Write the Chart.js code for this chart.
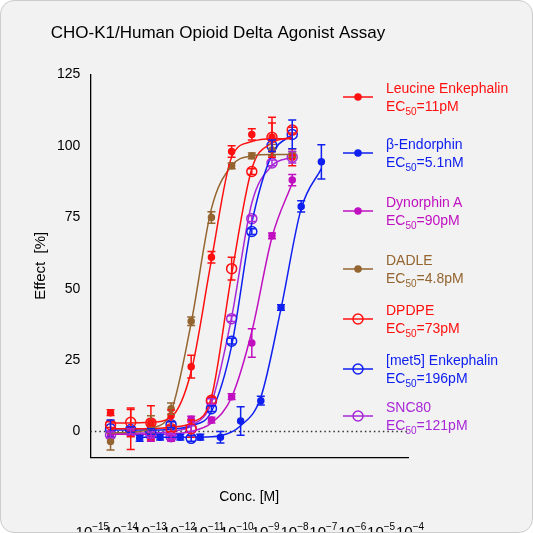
<!DOCTYPE html>
<html><head><meta charset="utf-8">
<script src="https://cdn.jsdelivr.net/npm/chart.js@4"></script>
<style>
body{margin:0;background:#fff;font-family:Arial,"Liberation Sans",sans-serif}
#wrap{position:relative;width:531px;height:531px;border:1px solid #ccc;border-radius:14px;background:#f2f2f2;overflow:hidden}
.lg{position:absolute;left:385px;font-size:14px;line-height:18px}
.lg sub{font-size:10px}
</style></head><body>
<div id="wrap"><canvas id="c" width="531" height="531"></canvas><div id="legend"></div></div>
<script>
// ── Data ──
const doses = [5e-15, 2.5e-14, 1.25e-13, 6.25e-13, 3.1e-12, 1.56e-11, 7.8e-11, 3.9e-10, 1.95e-9, 9.8e-9];
const dosesBeta = [5.1e-14, 2.6e-13, 1.3e-12, 6.4e-12, 3.2e-11, 1.6e-10, 8e-10, 4e-9, 2e-8, 1e-7];

const leuVals = [6.6, 0.7, 3, 5.5, 22.7, 61, 98, 104, 103, 96];
const leuErr  = [1, 7, 6, 2, 4, 2, 2, 2, 5, 3];
const leuFit  = [3, 3, 3.2, 5, 21, 60, 96, 101.5, 102.5, 102.5];

const betaVals = [-2.4, -2, -2, -2, -2, 3.7, 10.8, 43.4, 78.8, 94.4];
const betaErr  = [1, 1, 1, 1, 2, 5, 1.5, 1, 2, 6];
const betaFit  = [-2, -2, -2, -2, -1.5, 2, 12, 43, 78, 92];

const dynVals = [-1, -0.6, -2.4, -2.4, 4.3, 4, 12.2, 31, 68.5, 88];
const dynErr  = [1, 1, 1, 1, 1, 1, 1, 5, 1, 2];
const dynFit  = [-1, -1, -1, -0.8, 0, 3, 12, 35, 68, 87];

const dadleVals = [-3.5, 0, 2.5, 8, 38.6, 74.9, 93, 96.5, 98.5, 97];
const dadleErr  = [3, 1, 3, 2, 1.5, 2, 1, 1, 2, 1];
const dadleFit  = [-0.5, -0.3, 1, 7, 38, 78, 93, 96.5, 97, 97];

const dpdpeVals = [2.4, 3.2, 3, 1, 1, 10.9, 57, 91, 103, 105.5];
const dpdpeErr  = [1, 5, 1, 1, 3, 1, 4, 1, 7, 1];
const dpdpeFit  = [1, 1, 1, 1.5, 3, 12, 55, 92, 101, 103];

const met5Vals = [1, 0.7, 0, 2.4, -2.4, 8, 31.6, 70, 100, 104];
const met5Err  = [3, 1, 1, 1, 1, 1, 1, 1, 2, 5];
const met5Fit  = [0.5, 0.5, 0.5, 0.8, 2, 7, 30, 73, 97, 104];

const sncVals = [-1.2, 0, -1.2, -1.8, 1, 10.5, 39.5, 74.5, 94, 96];
const sncErr  = [1, 1, 1, 1, 1, 1, 1, 1, 1, 2];
const sncFit  = [-0.5, -0.5, -0.5, 0, 2, 10, 40, 80, 93, 96];

const yTicks = [0, 25, 50, 75, 100, 125];
const series = [
  {name:'Leucine Enkephalin', ec:'11pM', color:'#ff1010', open:false, x:doses, v:leuVals, e:leuErr, f:leuFit},
  {name:'β-Endorphin', ec:'5.1nM', color:'#1020f0', open:false, x:dosesBeta, v:betaVals, e:betaErr, f:betaFit},
  {name:'Dynorphin A', ec:'90pM', color:'#c010c0', open:false, x:doses, v:dynVals, e:dynErr, f:dynFit},
  {name:'DADLE', ec:'4.8pM', color:'#946530', open:false, x:doses, v:dadleVals, e:dadleErr, f:dadleFit},
  {name:'DPDPE', ec:'73pM', color:'#ff1010', open:true, x:doses, v:dpdpeVals, e:dpdpeErr, f:dpdpeFit},
  {name:'[met5] Enkephalin', ec:'196pM', color:'#1020f0', open:true, x:doses, v:met5Vals, e:met5Err, f:met5Fit},
  {name:'SNC80', ec:'121pM', color:'#a828d8', open:true, x:doses, v:sncVals, e:sncErr, f:sncFit},
];

const datasets = [];
series.forEach(s => {
  datasets.push({type:'line', data:s.x.map((x,i)=>({x, y:s.f[i]})), borderColor:s.color, borderWidth:1.5,
    pointRadius:0, cubicInterpolationMode:'monotone', fill:false});
  datasets.push({type:'scatter', data:s.x.map((x,i)=>({x, y:s.v[i]})), err:s.e, borderColor:s.color,
    backgroundColor:s.open ? 'rgba(0,0,0,0)' : s.color, pointRadius:s.open ? 5 : 3, borderWidth:1.5, showLine:false});
});

const F = 'Arial, "Liberation Sans", sans-serif';

// ── Error bars, zero line, power-of-ten labels ──
const extras = {
  id:'extras',
  beforeDatasetsDraw(chart){
    const {ctx, scales:{x, y}} = chart;
    ctx.save(); ctx.setLineDash([1.5, 3]); ctx.strokeStyle = '#333'; ctx.lineWidth = 1.3;
    ctx.beginPath(); ctx.moveTo(x.left, y.getPixelForValue(0)); ctx.lineTo(x.right, y.getPixelForValue(0)); ctx.stroke();
    ctx.restore();
  },
  afterDatasetsDraw(chart){
    const {ctx, scales:{x, y}} = chart;
    chart.data.datasets.forEach(ds => {
      if (!ds.err) return;
      ctx.save(); ctx.strokeStyle = ds.borderColor; ctx.lineWidth = 1.5;
      ds.data.forEach((p, i) => {
        const px = x.getPixelForValue(p.x), y1 = y.getPixelForValue(p.y + ds.err[i]), y2 = y.getPixelForValue(p.y - ds.err[i]);
        ctx.beginPath(); ctx.moveTo(px, y1); ctx.lineTo(px, y2);
        ctx.moveTo(px-4, y1); ctx.lineTo(px+4, y1); ctx.moveTo(px-4, y2); ctx.lineTo(px+4, y2); ctx.stroke();
      });
      ctx.restore();
    });
  },
  afterDraw(chart){
    const {ctx, scales:{x}} = chart;
    ctx.save(); ctx.fillStyle = '#000'; ctx.textBaseline = 'alphabetic';
    for (let k = -15; k <= -4; k++) {
      const px = x.getPixelForValue(Math.pow(10, k)), base = x.bottom + 27;
      ctx.font = '15px ' + F; const w1 = ctx.measureText('10').width;
      ctx.font = '10px ' + F; const ex = String(k).replace('-', '\u2212'); const w2 = ctx.measureText(ex).width;
      const left = px - (w1 + w2) / 2 + 2;
      ctx.font = '15px ' + F; ctx.fillText('10', left, base);
      ctx.font = '10px ' + F; ctx.fillText(ex, left + w1, base - 7);
    }
    ctx.restore();
  }
};

new Chart(document.getElementById('c'), {
  data:{datasets},
  options:{
    responsive:false, animation:false,
    layout:{padding:{left:27, right:124, top:0, bottom:22}},
    plugins:{legend:{display:false}, tooltip:{enabled:false},
      title:{display:true, text:'CHO-K1/Human Opioid Delta Agonist Assay', color:'#000', font:{family:F, size:17, weight:'normal'}, padding:{top:22, bottom:31}}},
    scales:{
      x:{type:'logarithmic', min:1e-15, max:1e-4, grid:{display:false, drawTicks:true, tickLength:6},
        border:{color:'#000', width:1.3},
        afterBuildTicks(ax){ const t=[]; for(let k=-15;k<=-4;k++){ for(let m=1;m<=9;m++){ if(k==-4&&m>1) break; t.push({value:m*Math.pow(10,k)}); } } ax.ticks=t; },
        ticks:{autoSkip:false, maxRotation:0, color:'rgba(0,0,0,0)', font:{family:F, size:15},
          callback(v){ const e=Math.round(Math.log10(v)); return Math.abs(v-Math.pow(10,e))/v>1e-6 ? '' : '10'; }},
        title:{display:true, text:'Conc. [M]', color:'#000', font:{family:F, size:14}, padding:{top:2}}},
      y:{min:-9, max:125, grid:{display:false, drawTicks:true, tickLength:7}, border:{color:'#000', width:1.3},
        afterBuildTicks(ax){ ax.ticks = yTicks.map(v=>({value:v})); },
        ticks:{color:'#000', font:{family:F, size:14}},
        title:{display:true, text:'Effect  [%]', color:'#000', font:{family:F, size:15}}}
    }
  },
  plugins:[extras]
});

// ── Legend ──
const legendTops = [96, 152, 210, 268, 318, 368, 415];
const lg = document.getElementById('legend');
series.forEach((s, i) => {
  const t = legendTops[i];
  const svg = `<svg style="position:absolute;left:340px;top:${t-7}px" width="34" height="14"><line x1="2" y1="7" x2="32" y2="7" stroke="${s.color}" stroke-width="1.5"/><circle cx="17" cy="7" r="${s.open?5:3}" fill="${s.open?'none':s.color}" stroke="${s.color}" stroke-width="1.5"/></svg>`;
  lg.insertAdjacentHTML('beforeend', svg + `<div class="lg" style="top:${t-18}px;color:${s.color}">${s.name}<br>EC<sub>50</sub>=${s.ec}</div>`);
});
</script>
</body></html>
